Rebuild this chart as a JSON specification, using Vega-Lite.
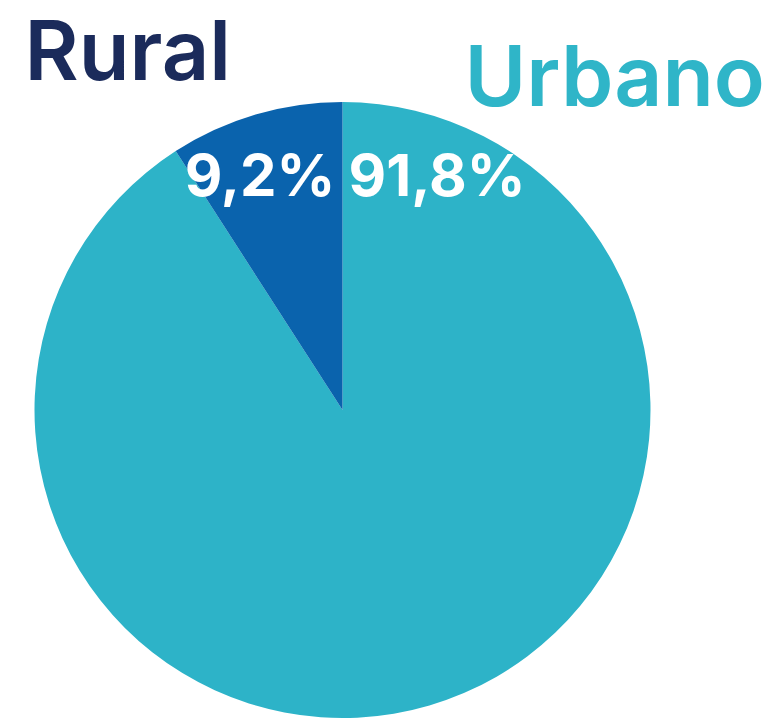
{
  "$schema": "https://vega.github.io/schema/vega-lite/v6.json",
  "width": 685,
  "height": 820,
  "padding": {"left": 0, "top": 0, "right": 88, "bottom": 0},
  "autosize": {"type": "none"},
  "background": "white",
  "config": {"view": {"stroke": null}},
  "data": {
    "values": [
      {"categoria": "Urbano", "valor": 91.8, "etiqueta": "91,8%"},
      {"categoria": "Rural", "valor": 9.2, "etiqueta": "9,2%"}
    ]
  },
  "layer": [
    {
      "mark": {"type": "arc", "radius": 308},
      "encoding": {
        "theta": {"field": "valor", "type": "quantitative", "stack": true},
        "order": {"field": "categoria", "sort": "descending"},
        "color": {
          "field": "categoria",
          "type": "nominal",
          "scale": {"domain": ["Urbano", "Rural"], "range": ["#2db3c8", "#0a63ad"]},
          "legend": null
        }
      }
    },
    {
      "transform": [{"filter": "datum.categoria === 'Rural'"}],
      "mark": {"type": "text", "theta": 0, "radius": 231, "align": "right", "baseline": "middle", "dx": -7, "font": "Inter", "fontWeight": 700, "fontSize": 58, "fill": "white"},
      "encoding": {"text": {"field": "etiqueta"}}
    },
    {
      "transform": [{"filter": "datum.categoria === 'Urbano'"}],
      "mark": {"type": "text", "theta": 0, "radius": 231, "align": "left", "baseline": "middle", "dx": 6, "font": "Inter", "fontWeight": 700, "fontSize": 58, "fill": "white"},
      "encoding": {"text": {"field": "etiqueta"}}
    },
    {
      "transform": [{"filter": "datum.categoria === 'Rural'"}],
      "mark": {"type": "text", "align": "left", "baseline": "alphabetic", "dx": -318, "dy": -330, "font": "Inter", "fontWeight": 600, "fontSize": 83, "fill": "#1b2b5b"},
      "encoding": {"text": {"field": "categoria"}}
    },
    {
      "transform": [{"filter": "datum.categoria === 'Urbano'"}],
      "mark": {"type": "text", "align": "left", "baseline": "alphabetic", "dx": 122, "dy": -304, "font": "Inter", "fontWeight": 600, "fontSize": 84, "fill": "#2fb5c8"},
      "encoding": {"text": {"field": "categoria"}}
    }
  ]
}
